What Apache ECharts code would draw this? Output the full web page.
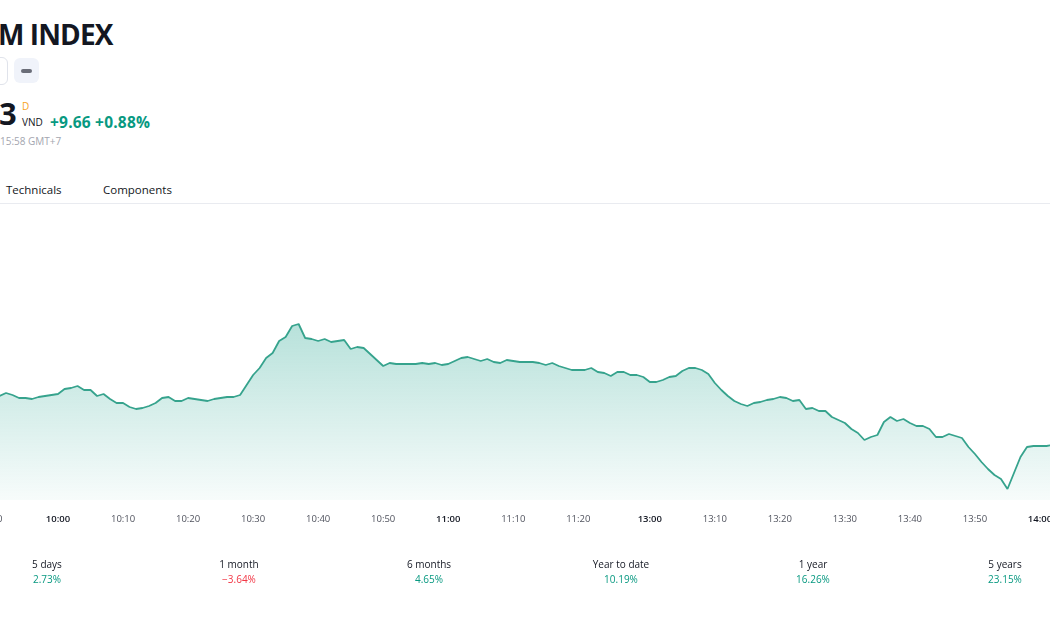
<!DOCTYPE html>
<html>
<head>
<meta charset="utf-8">
<script src="https://cdn.jsdelivr.net/npm/echarts@6/dist/echarts.min.js"></script>
<style>
    html, body { margin: 0; padding: 0; background: #fff; overflow: hidden; }
    body { width: 1050px; height: 630px; position: relative; font-family: "Open Sans", "DejaVu Sans", sans-serif; color: #131722; }
    #chart-container { position: absolute; left: 0; top: 0; width: 1050px; height: 630px; }
    .abs { position: absolute; white-space: nowrap; }
    .title { left: -2px; top: 15px; font-size: 28px; font-weight: 700; letter-spacing: -0.9px; }
    .btn1 { left: -20px; top: 57px; width: 26px; height: 26px; border: 1px solid #e0e3eb; border-radius: 6px; background: #fff; }
    .btn2 { left: 14px; top: 58px; width: 25px; height: 25px; border-radius: 6px; background: #f0f3fa; }
    .btn2 span { position: absolute; left: 7px; top: 11px; width: 11px; height: 4px; border-radius: 2px; background: #6a6d78; }
    .price { left: -1px; top: 92px; font-size: 31px; font-weight: 700; }
    .dtag { left: 22px; top: 99px; font-size: 10px; color: #f7a21b; }
    .cur { left: 22px; top: 115px; font-size: 10px; }
    .chg { left: 50px; top: 111px; font-size: 15.5px; font-weight: 700; color: #089981; letter-spacing: 0.2px; }
    .time { left: 0; top: 134px; font-size: 10px; color: #a3a6af; }
    .tab { top: 182px; font-size: 11.5px; }
    .sep { left: 0; top: 203px; width: 1050px; height: 1px; background: #e9ebf0; }
    .perf { top: 557px; font-size: 10px; text-align: center; width: 120px; }
    .perf div:last-child { margin-top: 1px; }
</style>
</head>
<body>
<div class="abs title">M INDEX</div>
<div class="abs btn1"></div>
<div class="abs btn2"><span></span></div>
<div class="abs price">3</div>
<div class="abs dtag">D</div>
<div class="abs cur">VND</div>
<div class="abs chg">+9.66 +0.88%</div>
<div class="abs time">15:58 GMT+7</div>
<div class="abs tab" style="left:6px">Technicals</div>
<div class="abs tab" style="left:103px">Components</div>
<div class="abs sep"></div>
<div id="chart-container"></div>
<div id="perf-row"></div>

<script>
// morning session from 9:50 to 11:30, afternoon 13:00 to 14:02 (one point per minute)
const sessions = [['09:50', '11:30'], ['13:00', '14:02']];

const prices = [
    1112.6,
    1112.4, 1112.7, 1112.5, 1112.2, 1112.2, 1112.1, 1112.3, 1112.4, 1112.5,
    1112.6, 1113.1, 1113.2, 1113.4, 1113.0, 1113.0, 1112.4, 1112.6, 1112.1, 1111.7,
    1111.7, 1111.3, 1111.1, 1111.2, 1111.4, 1111.7, 1112.2, 1112.3, 1111.9, 1111.9,
    1112.2, 1112.1, 1112.0, 1111.9, 1112.1, 1112.2, 1112.3, 1112.3, 1112.5, 1113.5,
    1114.5, 1115.2, 1116.2, 1116.7, 1117.9, 1118.3, 1119.4, 1119.6, 1118.2, 1118.1,
    1117.9, 1118.1, 1117.8, 1117.9, 1118.0, 1117.1, 1117.3, 1117.2, 1116.6, 1116.0,
    1115.4, 1115.7, 1115.6, 1115.6, 1115.6, 1115.6, 1115.7, 1115.6, 1115.7, 1115.5,
    1115.6, 1115.9, 1116.2, 1116.3, 1116.1, 1115.9, 1116.1, 1115.8, 1115.7, 1116.0,
    1115.9, 1115.8, 1115.8, 1115.8, 1115.7, 1115.5, 1115.7, 1115.4, 1115.2, 1115.0,
    1115.0, 1115.0, 1115.2, 1114.8, 1114.7, 1114.4, 1114.8, 1114.8, 1114.5, 1114.5,
    1114.3,
    1113.8, 1113.8, 1114.0, 1114.3, 1114.4, 1114.9, 1115.2, 1115.2, 1115.0,
    1114.6, 1113.7, 1113.0, 1112.4, 1111.9, 1111.6, 1111.4, 1111.7, 1111.8, 1112.0,
    1112.1, 1112.3, 1112.2, 1111.9, 1112.0, 1111.1, 1111.2, 1110.9, 1110.9, 1110.3,
    1110.0, 1109.7, 1109.1, 1108.7, 1108.0, 1108.3, 1108.5, 1109.8, 1110.3, 1109.9,
    1110.1, 1109.7, 1109.4, 1109.4, 1109.1, 1108.3, 1108.3, 1108.6, 1108.4, 1108.2,
    1107.3, 1106.6, 1105.8, 1105.1, 1104.5, 1104.1, 1103.1, 1104.7, 1106.3, 1107.3,
    1107.4, 1107.4, 1107.4, 1107.5
];

// the 11:30 tick is hidden in the original, 13:00 takes its place
const hiddenTicks = ['11:30'];

const perfNames = ['5 days', '1 month', '6 months', 'Year to date', '1 year', '5 years'];
const perfValues = [2.73, -3.64, 4.65, 10.19, 16.26, 23.15];
const perfCenters = [47, 239, 429, 621, 813, 1005];

function buildMinutes(ranges) {
    let out = []
    for (let r = 0; r < ranges.length; r++) {
        let [h1, m1] = ranges[r][0].split(':').map(Number)
        let [h2, m2] = ranges[r][1].split(':').map(Number)
        for (let t = h1 * 60 + m1; t <= h2 * 60 + m2; t++) {
            let h = Math.floor(t / 60)
            let m = t % 60
            out.push(h + ':' + (m < 10 ? '0' + m : m))
        }
    }
    return out
}

function createChart(times, values, id) {
    let dom = document.getElementById(id);
    let myChart = echarts.init(dom, null, { renderer: 'canvas' });

    let option = {
        animation: false,
        grid: { left: -7, right: -3, top: 205, bottom: 130, containLabel: false, outerBoundsMode: 'none' },
        xAxis: {
            type: 'category',
            boundaryGap: false,
            data: times,
            axisLine: { show: false },
            axisTick: { show: false },
            splitLine: { show: false },
            axisLabel: {
                interval: (i, v) => v.endsWith('0') && hiddenTicks.indexOf(v) < 0,
                margin: 14,
                fontSize: 9.5,
                formatter: (v) => v.endsWith(':00') ? '{h|' + v + '}' : '{m|' + v + '}',
                rich: {
                    h: { color: '#131722', fontSize: 9.5, fontWeight: 600, fontFamily: 'Open Sans' },
                    m: { color: '#50535e', fontSize: 9.5, fontFamily: 'Open Sans' }
                }
            }
        },
        yAxis: {
            type: 'value',
            min: 1102,
            max: 1131.5,
            show: false,
            splitLine: { show: false }
        },
        series: [
            {
                type: 'line',
                data: values,
                symbol: 'none',
                lineStyle: { color: '#36a38d', width: 1.8 },
                areaStyle: {
                    opacity: 1,
                    color: new echarts.graphic.LinearGradient(0, 0, 0, 1, [
                        { offset: 0, color: 'rgba(8,153,129,0.29)' },
                        { offset: 1, color: 'rgba(8,153,129,0.03)' }
                    ])
                }
            }
        ]
    };

    myChart.setOption(option);
    window.addEventListener('resize', myChart.resize);
}

function showPerformance() {
    let row = document.getElementById('perf-row')
    let html = ''
    for (let i = 0; i < perfNames.length; i++) {
        let v = perfValues[i]
        let color = v < 0 ? '#f23645' : '#089981'
        let txt = (v < 0 ? '\u2212' + Math.abs(v).toFixed(2) : v.toFixed(2)) + '%'
        html += `<div class="abs perf" style="left:${perfCenters[i] - 60}px"><div>${perfNames[i]}</div><div style="color:${color}">${txt}</div></div>`
    }
    row.innerHTML = html
}

createChart(buildMinutes(sessions), prices, 'chart-container')
showPerformance()
</script>
</body>
</html>
